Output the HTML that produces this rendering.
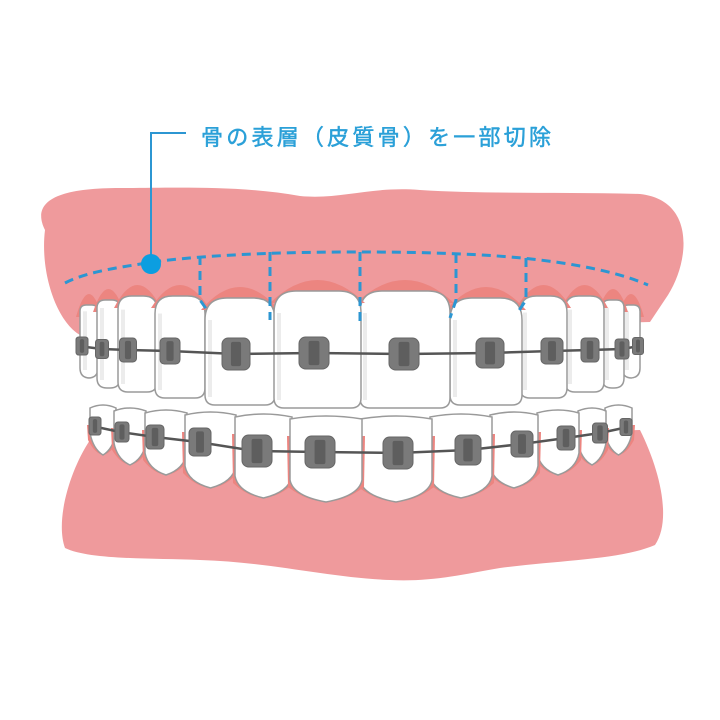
<!DOCTYPE html>
<html><head><meta charset="utf-8">
<style>html,body{margin:0;padding:0;background:#fff;width:720px;height:720px;overflow:hidden}</style>
</head><body>
<svg id="s" width="720" height="720" viewBox="0 0 720 720" xmlns="http://www.w3.org/2000/svg">
<path d="M45,230 C30,200 60,188 120,188 C170,188 240,185 300,196 C340,200 370,186 420,190 C480,194 560,192 640,194 C695,200 690,260 668,295 L650,322 L80,335 C55,320 40,270 45,230 Z" fill="#ef9a9c"/>
<path d="M90,440 L640,430 C660,470 672,520 655,545 C620,560 560,560 500,568 C460,575 430,582 390,580 C330,578 270,562 200,560 C150,558 90,560 65,548 C55,520 70,470 90,440 Z" fill="#ef9a9c"/>
<g id="g"></g>
<g fill="none" stroke="#2c96d2" stroke-width="3" stroke-dasharray="9,6">
<path d="M65,283 C90,270 130,266 160,261 C220,254 290,252 360,252 C440,252 500,255 540,260 C590,266 625,275 648,285"/>
<path d="M200,256 L200,300 L207,310"/>
<path d="M270,252 L270,320"/>
<path d="M360,252 L360,322"/>
<path d="M456,254 L456,300 L450,318"/>
<path d="M526,258 L526,300 L518,312"/>
</g>
<path d="M151,264 L151,133 L186,133" fill="none" stroke="#2c96d2" stroke-width="2"/>
<circle cx="151" cy="264" r="10" fill="#0c9ee0"/>
<text x="201" y="145" font-size="22" fill="#2ba0d8" stroke="#2ba0d8" stroke-width="0.5" textLength="350" font-family="'Liberation Sans','Noto Sans CJK JP',sans-serif">骨の表層（皮質骨）を一部切除</text>
</svg>
<script>
var g=document.getElementById('g'),h='';
function upper(x1,x2,t,b){var w=x2-x1,r=Math.min(w*0.35,22);
 h+='<path d="M'+(x1-4)+','+(t+12)+' Q'+((x1+x2)/2)+','+(t-34)+' '+(x2+4)+','+(t+12)+' Z" fill="#ec8580"/>';
 h+='<path d="M'+x1+','+(t+r)+' Q'+x1+','+t+' '+(x1+r)+','+t+' L'+(x2-r)+','+t+' Q'+x2+','+t+' '+x2+','+(t+r)+' L'+x2+','+(b-10)+' Q'+x2+','+b+' '+(x2-10)+','+b+' L'+(x1+10)+','+b+' Q'+x1+','+b+' '+x1+','+(b-10)+' Z" fill="#fff" stroke="#9a9a9a" stroke-width="1.5"/>';
 h+='<path d="M'+(x1+5)+','+(t+r)+' L'+(x1+5)+','+(b-8)+'" stroke="#ececec" stroke-width="4"/>';
}
function lower(x1,x2,t,b){var w=x2-x1,m=(x1+x2)/2;
 h+='<path d="M'+(x1-3)+','+(t+20)+' L'+(x1-2)+','+(b-15)+' Q'+m+','+(b+14)+' '+(x2+2)+','+(b-15)+' L'+(x2+3)+','+(t+20)+' Z" fill="#ec8580"/>';
 h+='<path d="M'+x1+','+(t+3)+' Q'+m+','+(t-3)+' '+x2+','+(t+3)+' L'+x2+','+(b-22)+' Q'+(x2-3)+','+(b-6)+' '+m+','+b+' Q'+(x1+3)+','+(b-6)+' '+x1+','+(b-22)+' Z" fill="#fff" stroke="#9a9a9a" stroke-width="1.5"/>';
}
function br(x,y,w,hh){
 h+='<rect x="'+(x-w/2)+'" y="'+(y-hh/2)+'" width="'+w+'" height="'+hh+'" rx="'+(w*0.22)+'" fill="#7a7a7a" stroke="#666" stroke-width="1"/>';
 h+='<rect x="'+(x-w*0.18)+'" y="'+(y-hh*0.38)+'" width="'+(w*0.36)+'" height="'+(hh*0.76)+'" rx="2" fill="#5e5e5e"/>';
}
var U=[[622,640,305,378],[80,98,305,378],[602,624,300,388],[97,120,300,388],[565,604,296,392],[118,157,296,392],[520,567,296,398],[155,205,296,398],[450,522,298,405],[205,275,298,405],[360,450,291,408],[274,361,291,408]];
U.forEach(function(a){upper(a[0],a[1],a[2],a[3]);});
var L=[[605,632,405,455],[90,116,405,455],[578,606,408,465],[114,146,408,465],[537,579,410,475],[145,187,410,475],[490,538,412,488],[185,236,412,488],[430,492,414,498],[235,292,414,498],[360,432,416,502],[290,362,416,502]];
L.forEach(function(a){lower(a[0],a[1],a[2],a[3]);});
h+='<polyline points="78,346 102,349 128,350 170,351 236,354 314,353 404,354 490,353 552,351 590,350 622,349 640,346" fill="none" stroke="#555" stroke-width="2.5"/>';
h+='<polyline points="92,426 120,432 155,437 198,442 255,451 320,452 398,453 468,450 522,444 566,438 600,433 628,427" fill="none" stroke="#555" stroke-width="2.5"/>';
[[82,346,12,18],[102,349,13,19],[128,350,17,24],[170,351,20,26],[236,354,28,32],[314,353,30,32],[404,354,30,32],[490,353,28,30],[552,351,22,26],[590,350,18,24],[622,349,14,20],[638,346,11,17]].forEach(function(a){br(a[0],a[1],a[2],a[3]);});
[[95,426,12,18],[122,432,14,20],[155,437,18,24],[200,442,22,28],[257,451,30,32],[320,452,30,32],[398,453,30,32],[468,450,26,30],[522,444,22,26],[566,438,18,24],[600,433,15,20],[626,427,12,17]].forEach(function(a){br(a[0],a[1],a[2],a[3]);});
g.innerHTML=h;
</script>
</body></html>
